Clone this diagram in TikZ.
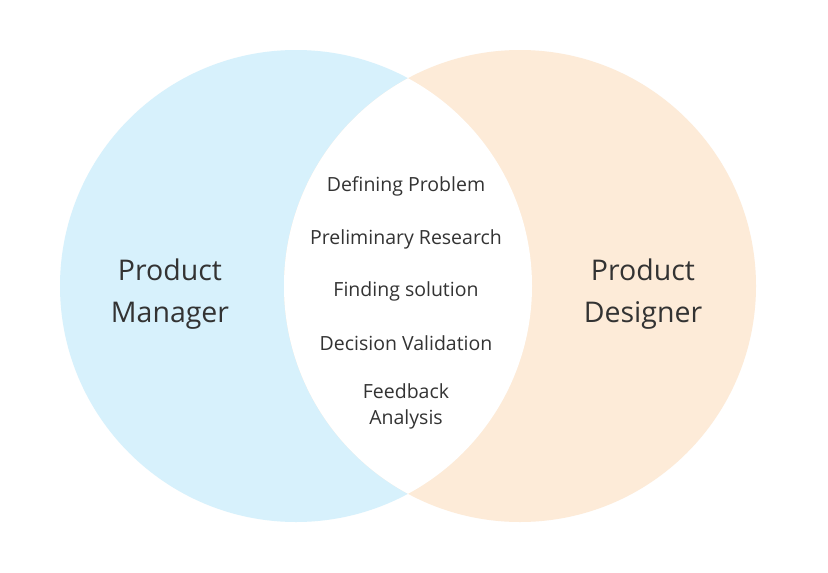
\documentclass[tikz,border=0pt]{standalone}
\usepackage{fontspec}
\setmainfont{Open Sans}
\definecolor{pmblue}{HTML}{D7F1FC}
\definecolor{pdpeach}{HTML}{FDEBD8}
\definecolor{txt}{HTML}{333333}
\begin{document}
\begin{tikzpicture}[x=1pt,y=-1pt,
  small/.style={font=\fontsize{19.5}{26}\selectfont,text=txt,align=center},
  big/.style={font=\fontsize{28.5}{42}\selectfont,text=txt,align=center}]
\useasboundingbox[fill=white] (0,0) rectangle (828,573);
\fill[pmblue] (296,286) circle (236);
\fill[pdpeach] (520,286) circle (236);
\begin{scope}
\clip (296,286) circle (236);
\fill[white] (520,286) circle (236);
\end{scope}
\node[big] (pm) at (170,294) {Product\\Manager};
\node[big] (pd) at (643,294) {Product\\Designer};
\node[small] (a) at (406,186) {Defining Problem};
\node[small] (b) at (406,239) {Preliminary Research};
\node[small] (c) at (406,291) {Finding solution};
\node[small] (d) at (406,343) {Decision Validation};
\node[small] (e) at (406,406) {Feedback\\Analysis};
\end{tikzpicture}
\end{document}
